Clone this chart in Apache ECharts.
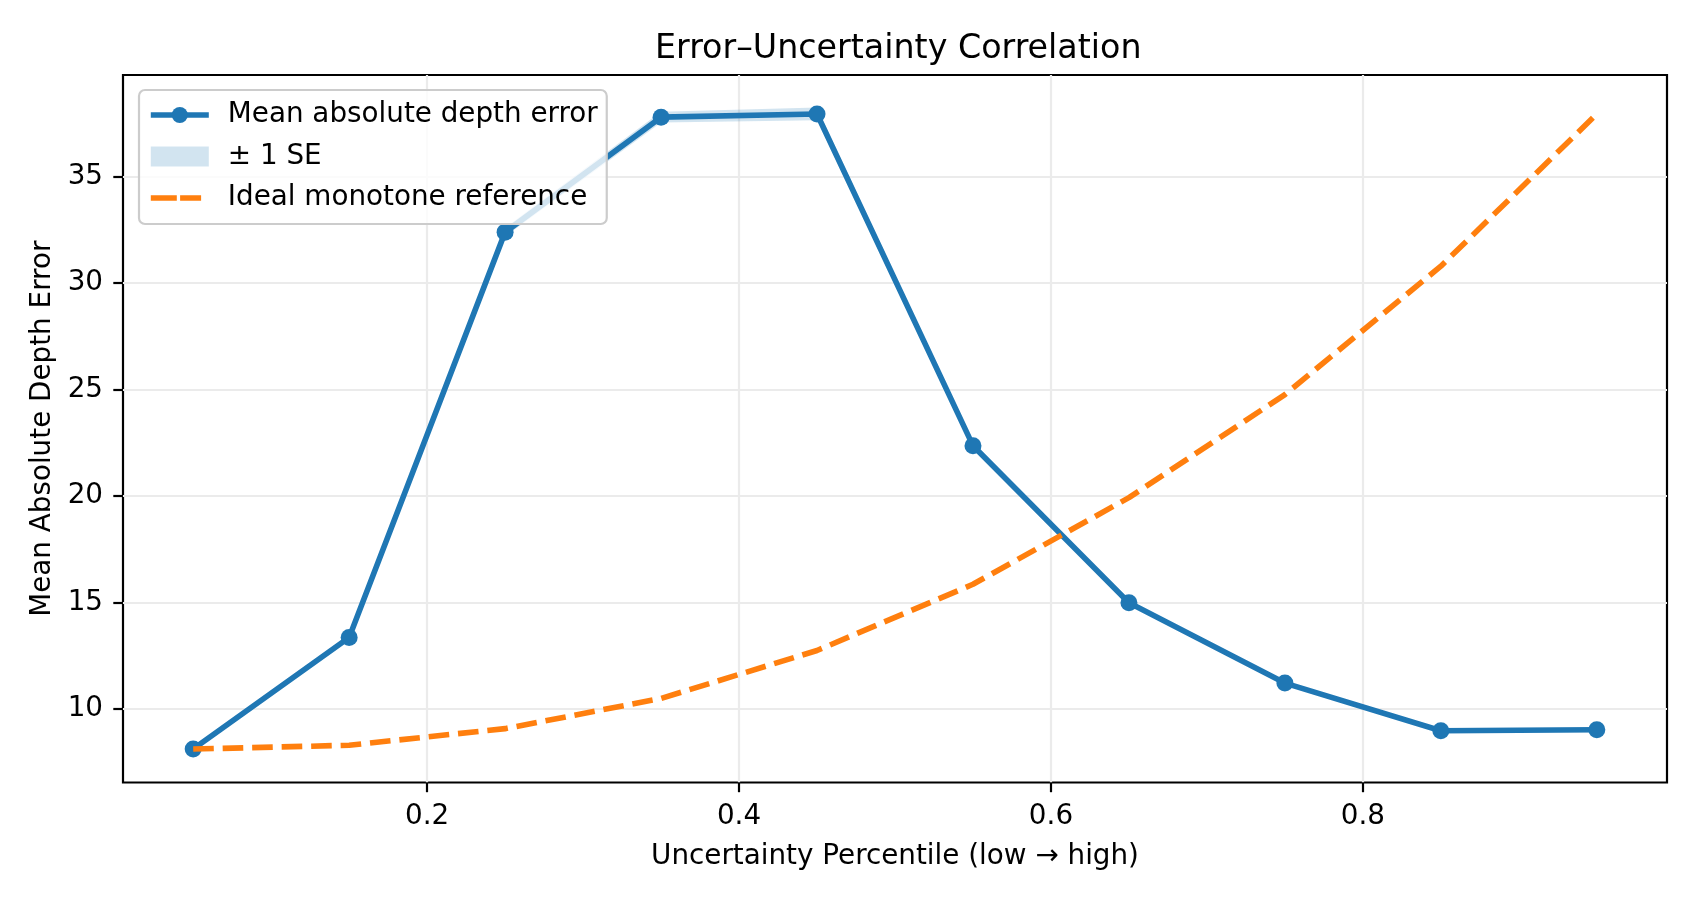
<!DOCTYPE html>
<html>
<head>
<meta charset="utf-8">
<script src="https://cdn.jsdelivr.net/npm/echarts@6/dist/echarts.min.js"></script>
<style>
html,body{margin:0;padding:0;background:#fff;}
#chart{width:1700px;height:900px;}
</style>
</head>
<body>
<div id="chart"></div>
<script>
const percentiles = [0.05, 0.15, 0.25, 0.35, 0.45, 0.55, 0.65, 0.75, 0.85, 0.95];
const meanError = [8.12, 13.36, 32.40, 37.80, 37.95, 22.37, 14.99, 11.22, 8.98, 9.03];
const stdErr = [0.06, 0.12, 0.2, 0.25, 0.3, 0.18, 0.12, 0.1, 0.07, 0.08];
const idealRef = [8.12, 8.30, 9.08, 10.50, 12.75, 15.86, 19.93, 24.77, 30.80, 37.95];
const xTicks = [0.2, 0.4, 0.6, 0.8];
const yTicks = [10, 15, 20, 25, 30, 35];

const FONT = 'DejaVu Sans';
const chart = echarts.init(document.getElementById('chart'), null, {renderer: 'canvas'});

const bandData = percentiles.map((x, i) => [x, meanError[i] - stdErr[i], meanError[i] + stdErr[i]]);

const option = {
  animation: false,
  backgroundColor: '#ffffff',
  title: {
    text: 'Error\u2013Uncertainty Correlation',
    left: 655,
    top: 33,
    padding: 0,
    textStyle: {fontFamily: FONT, fontSize: 33.3, fontWeight: 'normal', color: '#000'}
  },
  grid: {
    left: 123, right: 33, top: 75, bottom: 117.5,
    show: true, borderColor: '#000', borderWidth: 2.2, backgroundColor: 'transparent'
  },
  legend: {
    orient: 'vertical',
    left: 139,
    top: 90,
    padding: [9, 9, 10, 9],
    itemWidth: 58,
    itemHeight: 20,
    itemGap: 9.5,
    backgroundColor: 'rgba(255,255,255,0.8)',
    borderColor: '#cccccc',
    borderWidth: 2.2,
    borderRadius: 6,
    textStyle: {fontFamily: FONT, fontSize: 27.8, color: '#000', lineHeight: 32, padding: [0, 0, 0, 14]},
    data: [
      {name: 'Mean absolute depth error', lineStyle: {width: 5.6, color: '#1f77b4'}},
      {name: '\u00b1 1 SE', icon: 'rect', itemStyle: {color: 'rgba(31,119,180,0.2)'}},
      {name: 'Ideal monotone reference', itemStyle: {opacity: 0}, lineStyle: {width: 5.6, color: '#ff7f0e', type: [26, 3.3, 21, 100], cap: 'butt'}}
    ]
  },
  xAxis: {
    type: 'value',
    min: 0.005,
    max: 0.995,
    name: 'Uncertainty Percentile (low \u2192 high)',
    nameLocation: 'middle',
    nameGap: 60,
    nameTextStyle: {fontFamily: FONT, fontSize: 27.8, color: '#000'},
    axisLine: {show: false},
    axisTick: {show: true, inside: false, length: 9.7, lineStyle: {color: '#000', width: 2.2}, customValues: xTicks},
    axisLabel: {fontFamily: FONT, fontSize: 27.8, color: '#000', margin: 20, customValues: xTicks, formatter: v => v.toFixed(1)},
    splitLine: {show: true, lineStyle: {color: '#ebebeb', width: 2.2}}
  },
  yAxis: {
    type: 'value',
    min: 6.55,
    max: 39.78,
    name: 'Mean Absolute Depth Error',
    nameLocation: 'middle',
    nameGap: 66,
    nameTextStyle: {fontFamily: FONT, fontSize: 27.8, color: '#000'},
    axisLine: {show: false},
    axisTick: {show: true, inside: false, length: 9.7, lineStyle: {color: '#000', width: 2.2}, customValues: yTicks},
    axisLabel: {fontFamily: FONT, fontSize: 27.8, color: '#000', margin: 20, customValues: yTicks, formatter: v => String(v)},
    splitLine: {show: true, lineStyle: {color: '#ebebeb', width: 2.2}}
  },
  series: [
    {
      name: '\u00b1 1 SE',
      type: 'custom',
      z: 2,
      itemStyle: {color: 'rgba(31,119,180,0.2)'},
      data: bandData,
      encode: {x: 0, y: [1, 2]},
      renderItem: function (params, api) {
        if (params.dataIndex !== 0) return null;
        const upper = bandData.map(d => api.coord([d[0], d[2]]));
        const lower = bandData.map(d => api.coord([d[0], d[1]])).reverse();
        return {
          type: 'polygon',
          shape: {points: upper.concat(lower)},
          style: {fill: 'rgba(31,119,180,0.2)', stroke: 'none'}
        };
      }
    },
    {
      name: 'Mean absolute depth error',
      type: 'line',
      z: 3,
      data: percentiles.map((x, i) => [x, meanError[i]]),
      symbol: 'circle',
      symbolSize: 17,
      itemStyle: {color: '#1f77b4'},
      lineStyle: {color: '#1f77b4', width: 5.6},
      emphasis: {disabled: true}
    },
    {
      name: 'Ideal monotone reference',
      type: 'line',
      z: 4,
      data: percentiles.map((x, i) => [x, idealRef[i]]),
      symbol: 'none',
      smooth: false,
      itemStyle: {color: '#ff7f0e'},
      lineStyle: {color: '#ff7f0e', width: 5.6, type: [20.6, 8.9], cap: 'butt'},
      emphasis: {disabled: true}
    }
  ]
};
chart.setOption(option);
</script>
</body>
</html>
